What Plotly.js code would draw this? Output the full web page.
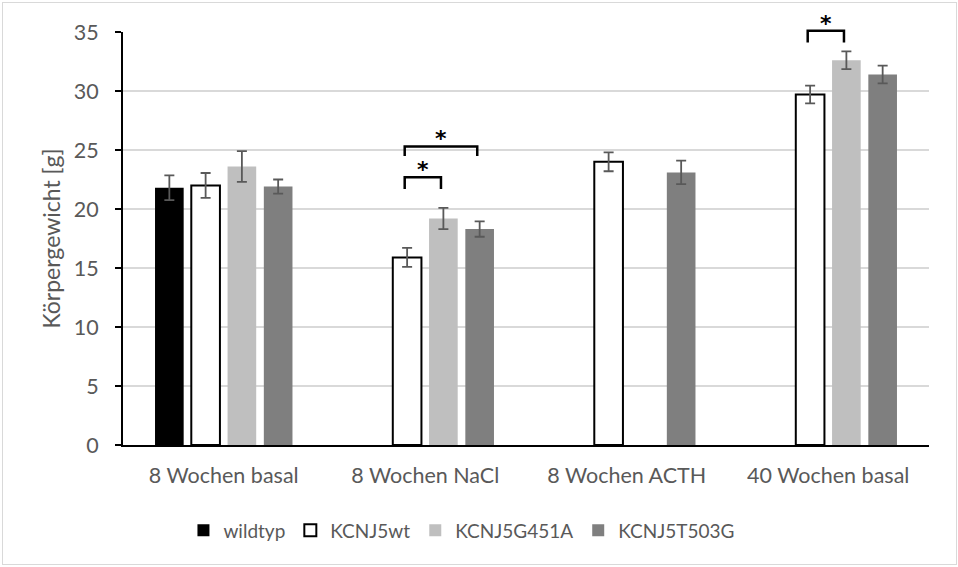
<!DOCTYPE html>
<html>
<head>
<meta charset="utf-8">
<script src="https://cdn.plot.ly/plotly-3.0.1.min.js"></script>
<style>
  html, body { margin: 0; padding: 0; background: #ffffff; }
  #wrap { position: relative; width: 958px; height: 567px; }
  #chart { width: 958px; height: 567px; }
  #frame { position: absolute; left: 2px; top: 2px; width: 955px; height: 563px;
           box-sizing: border-box; border: 1px solid #d9d9d9; pointer-events: none; }
</style>
</head>
<body>
<div id="wrap">
  <div id="chart"></div>
  <div id="frame"></div>
</div>
<script>
// Körpergewicht (Mittelwert ± SEM) je Gruppe und Genotyp
const categories = ['8 Wochen basal', '8 Wochen NaCl', '8 Wochen ACTH', '40 Wochen basal'];

const wildtyp       = [21.8, null, null, null];
const wildtypErr    = [1.05, null, null, null];
const kcnj5wt       = [22.0, 15.9, 24.0, 29.7];
const kcnj5wtErr    = [1.05, 0.8, 0.8, 0.75];
const kcnj5G451A    = [23.6, 19.2, null, 32.6];
const kcnj5G451AErr = [1.3, 0.9, null, 0.75];
const kcnj5T503G    = [21.9, 18.3, 23.1, 31.4];
const kcnj5T503GErr = [0.6, 0.65, 1.0, 0.75];

const seriesNames = ['wildtyp', 'KCNJ5wt', 'KCNJ5G451A', 'KCNJ5T503G'];

// Signifikanzklammern: Gruppe, Serie A, Serie B, Höhe der Klammer, Ende der Schenkel
const sigGroup = [1, 1, 3];
const sigFrom  = [1, 1, 1];
const sigTo    = [2, 3, 2];
const sigTop   = [22.7, 25.3, 35.1];
const sigLeg   = [21.7, 24.5, 34.1];

const yRange = [0, 35];
const xs = categories.map((_, i) => i);
const font = 'Lato, "Open Sans", sans-serif';
const textGrey = '#595959';
const bargap = 0.28;

function barTrace(name, y, err, color, line) {
  return {
    type: 'bar', name: name, x: xs, y: y,
    marker: { color: color, line: line || { width: 0 } },
    error_y: { type: 'data', array: err, visible: true, color: '#595959', thickness: 1.8, width: 5 },
    hoverinfo: 'y'
  };
}

const traces = [
  barTrace(seriesNames[0], wildtyp, wildtypErr, '#000000'),
  barTrace(seriesNames[1], kcnj5wt, kcnj5wtErr, '#ffffff', { color: '#000000', width: 2 }),
  barTrace(seriesNames[2], kcnj5G451A, kcnj5G451AErr, '#bfbfbf'),
  barTrace(seriesNames[3], kcnj5T503G, kcnj5T503GErr, '#7f7f7f')
];

// Mittelpunkt einer Serie innerhalb ihrer Kategorie (gruppierte Balken)
const nSeries = seriesNames.length;
const slot = (1 - bargap) / nSeries;
function seriesX(group, s) { return group + (s - (nSeries - 1) / 2) * slot; }
// y-Wert als Anteil der Achsenhöhe (damit die Klammer auch knapp über 35 sichtbar bleibt)
function yFrac(v) { return (v - yRange[0]) / (yRange[1] - yRange[0]); }

const shapes = [];
const annotations = [];
for (let k = 0; k < sigGroup.length; k++) {
  const x0 = seriesX(sigGroup[k], sigFrom[k]) - 0.012;
  const x1 = seriesX(sigGroup[k], sigTo[k]) - 0.012;
  const yt = yFrac(sigTop[k]);
  const yl = yFrac(sigLeg[k]);
  shapes.push({
    type: 'path', xref: 'x', yref: 'paper', layer: 'above',
    path: `M${x0},${yl} L${x0},${yt} L${x1},${yt} L${x1},${yl}`,
    line: { color: '#000000', width: 2.5 }
  });
  annotations.push({
    x: (x0 + x1) / 2, y: yt, xref: 'x', yref: 'paper',
    text: '<b>*</b>', showarrow: false, yanchor: 'bottom', yshift: -7,
    font: { family: 'DejaVu Sans, sans-serif', size: 22, color: '#000000' }
  });
}

const layout = {
  width: 958, height: 567,
  margin: { l: 123, r: 29, t: 32, b: 122 },
  paper_bgcolor: '#ffffff', plot_bgcolor: '#ffffff',
  barmode: 'group', bargap: bargap, bargroupgap: 0.21,
  font: { family: font, size: 21, color: textGrey },
  showlegend: true,
  legend: {
    orientation: 'h', x: 0.075, xanchor: 'left', y: -0.207, yanchor: 'middle',
    font: { family: font, size: 19, color: textGrey }, traceorder: 'normal'
  },
  xaxis: {
    type: 'linear', range: [-0.5, 3.5], tickvals: xs, ticktext: categories,
    showgrid: false, zeroline: false, showline: true, linecolor: '#000000', linewidth: 2,
    ticks: '', ticklabelstandoff: 10, tickfont: { family: font, size: 21.5, color: textGrey },
    fixedrange: true
  },
  yaxis: {
    range: yRange, dtick: 5, tick0: 0,
    showgrid: true, gridcolor: '#d9d9d9', gridwidth: 1.5, zeroline: false,
    showline: true, linecolor: '#000000', linewidth: 2,
    ticks: 'outside', ticklen: 6, tickwidth: 1.5, tickcolor: '#000000',
    ticklabelstandoff: 12, tickfont: { family: font, size: 21.5, color: textGrey },
    title: { text: 'Körpergewicht [g]', font: { family: font, size: 23, color: textGrey }, standoff: 7 },
    fixedrange: true
  },
  shapes: shapes,
  annotations: annotations
};

Plotly.newPlot('chart', traces, layout, { displayModeBar: false, staticPlot: true });
</script>
</body>
</html>
